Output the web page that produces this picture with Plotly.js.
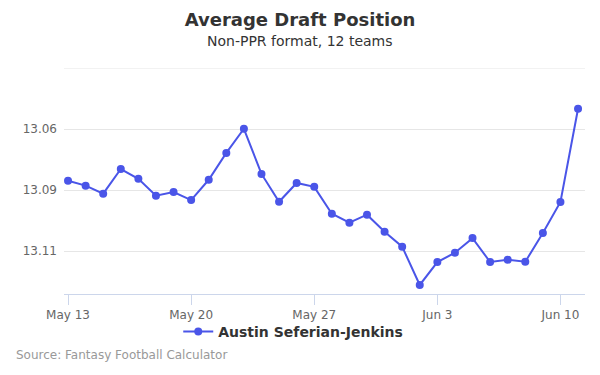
<!DOCTYPE html>
<html>
<head>
<meta charset="utf-8">
<script src="https://cdn.plot.ly/plotly-3.0.1.min.js"></script>
<style>html,body{margin:0;padding:0;background:#fff;}#chart{width:600px;height:375px;}</style>
</head>
<body>
<div id="chart"></div>
<script>
const dates = ["2018-05-13","2018-05-14","2018-05-15","2018-05-16","2018-05-17","2018-05-18","2018-05-19","2018-05-20","2018-05-21","2018-05-22","2018-05-23","2018-05-24","2018-05-25","2018-05-26","2018-05-27","2018-05-28","2018-05-29","2018-05-30","2018-05-31","2018-06-01","2018-06-02","2018-06-03","2018-06-04","2018-06-05","2018-06-06","2018-06-07","2018-06-08","2018-06-09","2018-06-10","2018-06-11"];
const adp = [13.0812,13.0832,13.0865,13.0764,13.0804,13.0873,13.0858,13.0891,13.0808,13.0698,13.0599,13.0784,13.0898,13.0821,13.0837,13.0947,13.0984,13.0951,13.1021,13.1082,13.1239,13.1145,13.1107,13.1047,13.1145,13.1136,13.1144,13.1026,13.0899,13.0517];
const seriesName = "Austin Seferian-Jenkins";
const tickDates = ["2018-05-13","2018-05-20","2018-05-27","2018-06-03","2018-06-10"];
const tickDateLabels = ["May 13","May 20","May 27","Jun 3","Jun 10"];
const yTickVals = [13.06,13.085,13.11];
const yTickText = ["13.06","13.09","13.11"];
const yTop = 13.035;

const font = "DejaVu Sans, sans-serif";
Plotly.newPlot("chart", [{
  x: dates, y: adp, name: seriesName, type: "scatter", mode: "lines+markers",
  line: {color: "#4a55e8", width: 2},
  marker: {color: "#4a55e8", size: 8},
  showlegend: true
}], {
  width: 600, height: 375,
  margin: {l: 64, r: 15, t: 68, b: 81, autoexpand: false},
  paper_bgcolor: "#fff", plot_bgcolor: "#fff",
  font: {family: font, color: "#666"},
  title: {text: "<b>Average Draft Position</b>", x: 0.5, xanchor: "center", y: 0.948, yanchor: "middle", font: {family: font, size: 18, color: "#333"}},
  xaxis: {
    type: "date", range: ["2018-05-12 18:30", "2018-06-11 09:30"],
    tickvals: tickDates, ticktext: tickDateLabels, tickangle: 0,
    showgrid: false, zeroline: false,
    showline: true, linecolor: "#ccd6eb", linewidth: 1,
    ticks: "outside", ticklen: 10, tickcolor: "#ccd6eb",
    tickfont: {family: font, size: 12, color: "#666"}
  },
  yaxis: {
    range: [13.1276, yTop],
    tickvals: yTickVals, ticktext: yTickText,
    showgrid: true, gridcolor: "#e6e6e6", zeroline: false, showline: false,
    ticks: "", ticklabelstandoff: 6,
    tickfont: {family: font, size: 12, color: "#666"}
  },
  shapes: [{type: "line", xref: "paper", yref: "y", x0: 0, x1: 1, y0: yTop, y1: yTop, line: {color: "#e6e6e6", width: 1}, layer: "below"}],
  legend: {orientation: "h", x: 0.44, xanchor: "center", y: -0.168, yanchor: "middle",
    bgcolor: "rgba(0,0,0,0)",
    font: {family: font, size: 14, color: "#333", weight: "bold"}},
  annotations: [
    {text: "Non-PPR format, 12 teams", xref: "paper", yref: "paper", x: 0.5, xanchor: "center", xshift: -25,
     y: 1.12, yanchor: "middle", showarrow: false, font: {family: font, size: 14, color: "#333"}},
    {text: "Source: Fantasy Football Calculator", xref: "paper", yref: "paper", x: 0, xanchor: "left",
     y: -0.27, yanchor: "middle", showarrow: false, xshift: -50, font: {family: font, size: 12, color: "#999"}}
  ]
}, {displayModeBar: false});
</script>
</body>
</html>
